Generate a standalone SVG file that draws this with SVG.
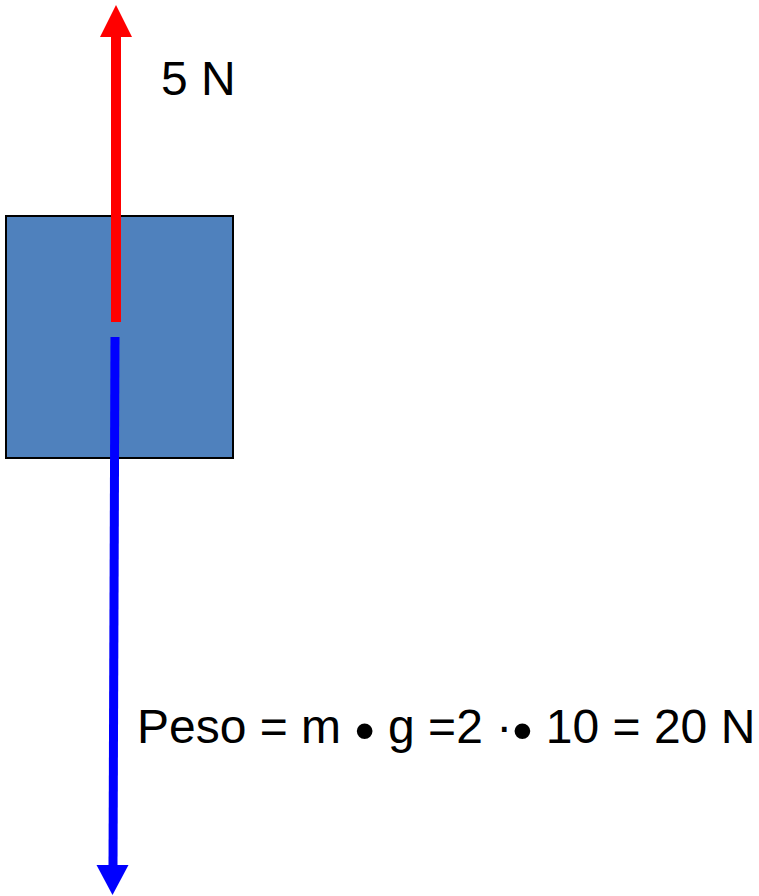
<svg xmlns="http://www.w3.org/2000/svg" width="759" height="896" viewBox="0 0 759 896">
<style>
.lbl{font-family:"Liberation Sans",Arial,sans-serif;fill:#000}
.bul{font-size:58px}
</style>
<rect width="759" height="896" fill="#fff"/>
<g id="block">
<rect x="6" y="216" width="227" height="242" fill="#4F81BD" stroke="#000" stroke-width="2"/>
</g>
<g id="connectors">
<line x1="116" y1="322" x2="116" y2="34" stroke="#FF0000" stroke-width="10"/>
<polygon points="116,5 132,37 100,37" fill="#FF0000"/>
<line x1="115" y1="337" x2="113" y2="867" stroke="#0000FF" stroke-width="9"/>
<polygon points="112.5,895 128.5,865 96.5,865" fill="#0000FF"/>
</g>
<g id="label-5N">
<text class="lbl" x="161" y="95" font-size="48">5 N</text>
</g>
<g id="label-peso">
<text class="lbl" x="137" y="743" font-size="48">Peso = m <tspan class="bul" dy="7">•</tspan><tspan dy="-7"> g =2 ·</tspan><tspan class="bul" dy="7">•</tspan><tspan dy="-7"> 10 = 20 N</tspan></text>
</g>
</svg>
